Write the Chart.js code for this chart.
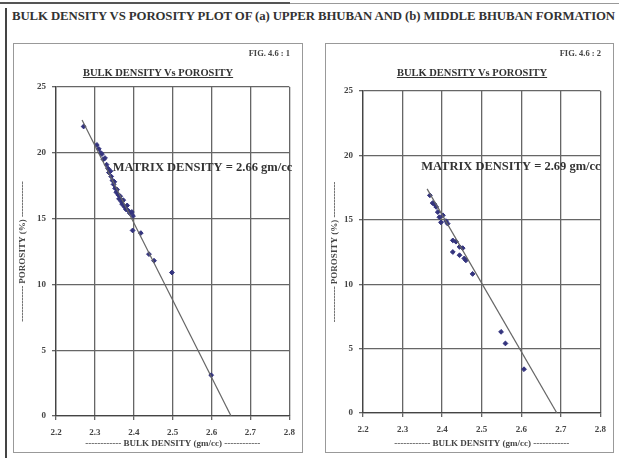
<!DOCTYPE html>
<html>
<head>
<meta charset="utf-8">
<script src="https://cdn.jsdelivr.net/npm/chart.js@4"></script>
<style>
  body { margin: 0; background: #fff; width: 619px; height: 458px; overflow: hidden; position: relative; font-family: 'Liberation Serif', serif; }
  .topline { position: absolute; left: 0; top: 2px; width: 290px; height: 2px; background: #555; }
  .topline2 { position: absolute; left: 290px; top: 3px; width: 329px; height: 1px; background: #999; }
  .frame { position: absolute; left: 5px; top: 8px; width: 640px; height: 470px; border-left: 2px solid #444; }
  .maintitle { position: absolute; left: 12px; top: 9px; width: 607px; white-space: nowrap; overflow: hidden; font-weight: bold; font-size: 12.8px; color: #333; letter-spacing: -0.1px; }
  .panel { position: absolute; border: 1px solid #999; }
  .panel canvas { position: absolute; left: 0; top: 0; }
  .fig { position: absolute; font-size: 8.5px; font-weight: bold; color: #444; }
  .ptitle { position: absolute; font-size: 10.5px; font-weight: bold; color: #333; text-decoration: underline; white-space: nowrap; transform: translateX(-50%); }
</style>
</head>
<body>
<div class="topline"></div><div class="topline2"></div>
<div class="frame"></div>
<div class="maintitle">BULK DENSITY VS POROSITY PLOT OF (a) UPPER BHUBAN AND (b) MIDDLE BHUBAN FORMATION</div>

<div class="panel" style="left:13px;top:43px;width:288px;height:408px;">
  <canvas id="left" width="288" height="408"></canvas>
  <div class="fig" style="right:12px;top:4px;">FIG. 4.6 : 1</div>
  <div class="ptitle" style="left:144px;top:23px;">BULK DENSITY Vs POROSITY</div>
</div>
<div class="panel" style="left:325px;top:43px;width:287px;height:408px;">
  <canvas id="right" width="287" height="408"></canvas>
  <div class="fig" style="right:12px;top:4px;">FIG. 4.6 : 2</div>
  <div class="ptitle" style="left:146px;top:23px;">BULK DENSITY Vs POROSITY</div>
</div>

<script>
// axis ranges
const xMin = 2.2, xMax = 2.8, xStep = 0.1;
const yMin = 0, yMax = 25, yStep = 5;

// (a) upper bhuban - bulk density (gm/cc) and porosity (%)
const leftRho = [2.271, 2.305, 2.310, 2.315, 2.318, 2.322, 2.326, 2.330, 2.334, 2.336,
  2.340, 2.342, 2.345, 2.348, 2.350, 2.352, 2.355, 2.357, 2.360, 2.362,
  2.365, 2.368, 2.370, 2.373, 2.376, 2.380, 2.383, 2.386, 2.390, 2.395,
  2.398, 2.397, 2.418, 2.439, 2.452, 2.498, 2.599];
const leftPor = [22.0, 20.6, 20.3, 20.0, 19.9, 19.5, 19.6, 19.1, 18.8, 18.5,
  18.6, 18.2, 17.9, 17.6, 17.8, 17.3, 17.0, 17.2, 16.8, 16.5,
  16.7, 16.3, 16.1, 16.4, 15.9, 15.7, 16.0, 15.6, 15.4, 15.5,
  15.2, 14.1, 13.9, 12.3, 11.8, 10.9, 3.1];
const leftLineRho = [2.267, 2.65];
const leftLinePor = [22.5, 0];

// (b) middle bhuban
const rightRho = [2.369, 2.376, 2.381, 2.385, 2.389, 2.393, 2.397, 2.402, 2.410, 2.414,
  2.427, 2.435, 2.444, 2.452, 2.427, 2.444, 2.456, 2.460, 2.477, 2.549, 2.560, 2.607];
const rightPor = [16.9, 16.3, 16.2, 16.0, 15.6, 15.2, 14.8, 15.35, 14.9, 14.7,
  13.4, 13.3, 12.9, 12.8, 12.5, 12.25, 12.0, 11.85, 10.8, 6.3, 5.4, 3.4];
const rightLineRho = [2.362, 2.69];
const rightLinePor = [17.4, 0];

const notePlugin = {
  id: 'note',
  afterDatasetsDraw(chart, args, opts) {
    const ctx = chart.ctx;
    const x = chart.scales.x.getPixelForValue(opts.at[0]);
    const y = chart.scales.y.getPixelForValue(opts.at[1]);
    ctx.save();
    ctx.font = 'bold 12.5px "Liberation Serif"';
    ctx.fillStyle = '#333';
    ctx.textBaseline = 'middle';
    ctx.fillText(opts.text, x, y);
    ctx.restore();
  }
};

const tickFont = { family: 'Liberation Serif', size: 9, weight: 'bold' };

function makeChart(id, rho, por, lineRho, linePor, note, noteAt, yw, xh, padRight, padTop) {
  new Chart(document.getElementById(id), {
    type: 'scatter',
    plugins: [notePlugin],
    data: {
      datasets: [
        {
          data: lineRho.map((v, i) => ({ x: v, y: linePor[i] })),
          showLine: true,
          borderColor: '#666',
          borderWidth: 1.2,
          pointRadius: 0
        },
        {
          data: rho.map((v, i) => ({ x: v, y: por[i] })),
          pointStyle: 'rectRot',
          pointRadius: 2.4,
          backgroundColor: '#34347e',
          borderColor: '#34347e',
          borderWidth: 1
        }
      ]
    },
    options: {
      responsive: false,
      animation: false,
      layout: { padding: { left: 0, right: padRight, top: padTop, bottom: 0 } },
      plugins: {
        legend: { display: false },
        tooltip: { enabled: false },
        note: { text: note, at: noteAt }
      },
      scales: {
        x: {
          type: 'linear', min: xMin, max: xMax,
          afterFit: s => { s.height = xh; },
          ticks: { stepSize: xStep, padding: 7, color: '#444', font: tickFont,
            callback: v => v.toFixed(1) },
          grid: { color: '#666', lineWidth: 1.3, tickLength: 4 },
          border: { color: '#444', width: 1.3 },
          title: { display: true, text: '------------ BULK DENSITY (gm/cc) ------------', color: '#444',
            font: tickFont, padding: { top: 0, bottom: 3 } }
        },
        y: {
          type: 'linear', min: yMin, max: yMax,
          afterFit: s => { s.width = yw; },
          ticks: { stepSize: yStep, padding: 6, color: '#444', font: tickFont },
          grid: { color: '#666', lineWidth: 1.3, tickLength: 4 },
          border: { color: '#444', width: 1.3 },
          title: { display: true, text: '------------ POROSITY (%) ------------', color: '#444',
            font: tickFont, padding: { top: 3, bottom: 4 } }
        }
      }
    }
  });
}

makeChart('left', leftRho, leftPor, leftLineRho, leftLinePor, 'MATRIX DENSITY = 2.66 gm/cc', [2.346, 18.9], 42, 36, 8, 43);
makeChart('right', rightRho, rightPor, rightLineRho, rightLinePor, 'MATRIX DENSITY = 2.69 gm/cc', [2.347, 19.1], 37, 39, 12, 47);
</script>
</body>
</html>
